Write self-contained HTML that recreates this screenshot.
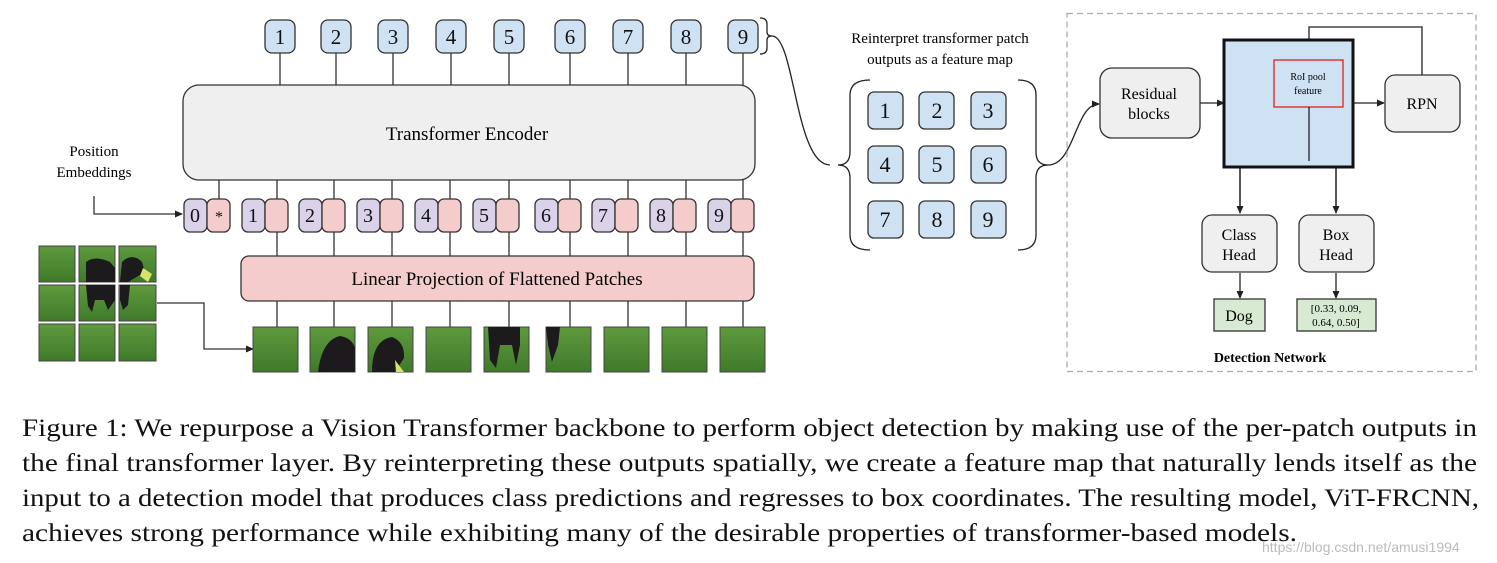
<!DOCTYPE html>
<html><head><meta charset="utf-8"><style>
html,body{margin:0;padding:0;background:#fff;}
svg{display:block;font-family:"Liberation Serif",serif;}
</style></head><body>
<svg width="1497" height="563" viewBox="0 0 1497 563" xmlns="http://www.w3.org/2000/svg">
<defs>
<marker id="ar" markerWidth="8" markerHeight="8" refX="7" refY="4" orient="auto" markerUnits="userSpaceOnUse"><path d="M0,0.5 L8,4 L0,7.5 z" fill="#222"/></marker>
<linearGradient id="g" x1="0" y1="0" x2="0" y2="1"><stop offset="0" stop-color="#5f9a3e"/><stop offset="1" stop-color="#3f7a2a"/></linearGradient>
</defs>
<g stroke="#333" stroke-width="1.3" fill="none">
<!-- output lines -->
<path d="M280,53V85M336,53V85M393,53V85M451,53V85M509,53V85M570,53V85M628,53V85M686,53V85M743,53V85"/>
<!-- encoder to tokens -->
<path d="M219,180V199M277,180V199M334,180V199M392,180V199M450,180V199M509,180V199M570,180V199M628,180V199M686,180V199M743,180V199"/>
<!-- tokens to linear -->
<path d="M277,232V256M334,232V256M392,232V256M450,232V256M509,232V256M570,232V256M628,232V256M686,232V256M743,232V256"/>
<!-- linear to patches -->
<path d="M277,301V327M334,301V327M392,301V327M450,301V327M509,301V327M570,301V327M628,301V327M686,301V327M743,301V327"/>
<path d="M94,196V214H182" marker-end="url(#ar)"/>
<path d="M157,303H204V349H253" marker-end="url(#ar)"/>
</g>
<!-- output boxes -->
<g fill="#cfe2f3" stroke="#333" stroke-width="1.3">
<rect x="265" y="20" width="30" height="33" rx="7"/><rect x="321" y="20" width="30" height="33" rx="7"/><rect x="378" y="20" width="30" height="33" rx="7"/><rect x="436" y="20" width="30" height="33" rx="7"/><rect x="494" y="20" width="30" height="33" rx="7"/><rect x="555" y="20" width="30" height="33" rx="7"/><rect x="613" y="20" width="30" height="33" rx="7"/><rect x="671" y="20" width="30" height="33" rx="7"/><rect x="728" y="20" width="30" height="33" rx="7"/>
</g>
<g font-size="21" text-anchor="middle" fill="#111">
<text x="280" y="44">1</text><text x="336" y="44">2</text><text x="393" y="44">3</text><text x="451" y="44">4</text><text x="509" y="44">5</text><text x="570" y="44">6</text><text x="628" y="44">7</text><text x="686" y="44">8</text><text x="743" y="44">9</text>
</g>
<!-- encoder -->
<rect x="183" y="85" width="572" height="95" rx="16" fill="#efefef" stroke="#333" stroke-width="1.3"/>
<text x="467" y="140" font-size="19" text-anchor="middle">Transformer Encoder</text>
<text x="94" y="156" font-size="15" text-anchor="middle">Position</text>
<text x="94" y="177" font-size="15" text-anchor="middle">Embeddings</text>
<!-- tokens -->
<g stroke="#333" stroke-width="1.3">
<g fill="#d9d2e9">
<rect x="184" y="199" width="23" height="33" rx="6"/><rect x="242" y="199" width="23" height="33" rx="6"/><rect x="299" y="199" width="23" height="33" rx="6"/><rect x="357" y="199" width="23" height="33" rx="6"/><rect x="415" y="199" width="23" height="33" rx="6"/><rect x="473" y="199" width="23" height="33" rx="6"/><rect x="535" y="199" width="23" height="33" rx="6"/><rect x="592" y="199" width="23" height="33" rx="6"/><rect x="650" y="199" width="23" height="33" rx="6"/><rect x="708" y="199" width="23" height="33" rx="6"/>
</g>
<g fill="#f4cccc">
<rect x="207" y="199" width="23" height="33" rx="6"/><rect x="265" y="199" width="23" height="33" rx="6"/><rect x="322" y="199" width="23" height="33" rx="6"/><rect x="380" y="199" width="23" height="33" rx="6"/><rect x="438" y="199" width="23" height="33" rx="6"/><rect x="496" y="199" width="23" height="33" rx="6"/><rect x="558" y="199" width="23" height="33" rx="6"/><rect x="615" y="199" width="23" height="33" rx="6"/><rect x="673" y="199" width="23" height="33" rx="6"/><rect x="731" y="199" width="23" height="33" rx="6"/>
</g>
</g>
<g font-size="20" text-anchor="middle" fill="#111">
<text x="195" y="222">0</text><text x="219" y="222" font-size="16">*</text><text x="253" y="222">1</text><text x="310" y="222">2</text><text x="368" y="222">3</text><text x="426" y="222">4</text><text x="484" y="222">5</text><text x="546" y="222">6</text><text x="603" y="222">7</text><text x="661" y="222">8</text><text x="719" y="222">9</text>
</g>
<rect x="241" y="256" width="513" height="45" rx="8" fill="#f4cccc" stroke="#333" stroke-width="1.3"/>
<text x="497" y="285" font-size="19" text-anchor="middle">Linear Projection of Flattened Patches</text>
<!-- image grid -->
<g stroke="#444" stroke-width="1" fill="url(#g)">
<rect x="39" y="246" width="36" height="36"/><rect x="79" y="246" width="36" height="36"/><rect x="119" y="246" width="37" height="36"/>
<rect x="39" y="285" width="36" height="36"/><rect x="79" y="285" width="36" height="36"/><rect x="119" y="285" width="37" height="36"/>
<rect x="39" y="324" width="36" height="37"/><rect x="79" y="324" width="36" height="37"/><rect x="119" y="324" width="37" height="37"/>
<rect x="253" y="327" width="45" height="45"/><rect x="310" y="327" width="45" height="45"/><rect x="368" y="327" width="45" height="45"/><rect x="426" y="327" width="45" height="45"/><rect x="484" y="327" width="45" height="45"/><rect x="546" y="327" width="45" height="45"/><rect x="604" y="327" width="45" height="45"/><rect x="662" y="327" width="45" height="45"/><rect x="720" y="327" width="45" height="45"/>
</g>
<g fill="#1c1a1c">
<path d="M86,262 Q95,255 110,262 L115,268 115,282 86,282Z"/><path d="M122,262 Q132,252 142,262 L145,272 128,282 120,282Z"/>
<path d="M86,285 H115 V300 L108,310 104,300 95,300 92,312 88,306Z"/><path d="M120,285 H130 L128,305 123,310 120,300Z"/>
<path d="M318,372 Q322,340 340,336 Q352,338 355,348 V372Z"/><path d="M372,372 Q372,340 392,337 Q405,342 404,358 L395,372Z"/>
<path d="M488,327 H520 V345 L516,365 512,345 500,345 496,368 490,360Z"/><path d="M546,327 H560 L558,345 552,362 548,345Z"/>
</g>
<path d="M395,360 L404,372 H396Z" fill="#d7e46a"/>
<path d="M143,268 L152,274 148,282 140,276Z" fill="#d7e46a"/>
<!-- right part -->
<g stroke="#222" stroke-width="1.3" fill="none">
<path d="M760,18 Q767,18 767,24 V32 Q767,36 772,36 Q767,36 767,40 V48 Q767,54 760,54"/>
<path d="M772,36 C795,36 795,165 830,165"/>
<path d="M870,80 Q850,80 850,95 V152 Q850,165 838,165 Q850,165 850,178 V235 Q850,250 870,250"/>
<path d="M1018,80 Q1036,80 1036,95 V152 Q1036,165 1048,165 Q1036,165 1036,178 V235 Q1036,250 1018,250"/>
<path d="M1048,165 C1075,165 1075,104 1099,104" marker-end="url(#ar)"/>
<path d="M1200,103H1224" marker-end="url(#ar)"/>
<path d="M1353,103H1384" marker-end="url(#ar)"/>
<path d="M1422,75V27H1309V59" marker-end="url(#ar)"/>
<path d="M1309,107V161M1240,213V161H1336V213" />
<path d="M1240,161V213" marker-end="url(#ar)"/><path d="M1336,161V213" marker-end="url(#ar)"/>
<path d="M1240,273V298" marker-end="url(#ar)"/><path d="M1336,273V298" marker-end="url(#ar)"/>
</g>
<text x="940" y="43" font-size="15" text-anchor="middle">Reinterpret transformer patch</text>
<text x="940" y="64" font-size="15" text-anchor="middle">outputs as a feature map</text>
<g fill="#cfe2f3" stroke="#333" stroke-width="1.3">
<rect x="868" y="92" width="35" height="37" rx="6"/><rect x="919" y="92" width="35" height="37" rx="6"/><rect x="971" y="92" width="35" height="37" rx="6"/>
<rect x="868" y="146" width="35" height="37" rx="6"/><rect x="919" y="146" width="35" height="37" rx="6"/><rect x="971" y="146" width="35" height="37" rx="6"/>
<rect x="868" y="201" width="35" height="37" rx="6"/><rect x="919" y="201" width="35" height="37" rx="6"/><rect x="971" y="201" width="35" height="37" rx="6"/>
</g>
<g font-size="22" text-anchor="middle" fill="#111">
<text x="885" y="118">1</text><text x="937" y="118">2</text><text x="988" y="118">3</text>
<text x="885" y="172">4</text><text x="937" y="172">5</text><text x="988" y="172">6</text>
<text x="885" y="227">7</text><text x="937" y="227">8</text><text x="988" y="227">9</text>
</g>
<rect x="1067" y="13.5" width="409" height="358" fill="none" stroke="#aaa" stroke-width="1.3" stroke-dasharray="6,4"/>
<rect x="1100" y="68" width="100" height="70" rx="12" fill="#efefef" stroke="#333" stroke-width="1.3"/>
<text x="1149" y="99" font-size="16" text-anchor="middle">Residual</text>
<text x="1149" y="119" font-size="16" text-anchor="middle">blocks</text>
<rect x="1224" y="40" width="129" height="127" fill="#cfe2f3" stroke="#111" stroke-width="3"/>
<rect x="1274" y="60" width="69" height="47" fill="none" stroke="#e02020" stroke-width="1.3"/>
<text x="1308" y="80" font-size="10" text-anchor="middle">RoI pool</text>
<text x="1308" y="94" font-size="10" text-anchor="middle">feature</text>
<path d="M1309,107V161" stroke="#222" stroke-width="1.3"/>
<rect x="1385" y="75" width="75" height="57" rx="10" fill="#efefef" stroke="#333" stroke-width="1.3"/>
<text x="1422" y="109" font-size="16" text-anchor="middle">RPN</text>
<rect x="1202" y="215" width="75" height="57" rx="10" fill="#efefef" stroke="#333" stroke-width="1.3"/>
<text x="1239" y="240" font-size="16" text-anchor="middle">Class</text>
<text x="1239" y="260" font-size="16" text-anchor="middle">Head</text>
<rect x="1299" y="215" width="75" height="57" rx="10" fill="#efefef" stroke="#333" stroke-width="1.3"/>
<text x="1336" y="240" font-size="16" text-anchor="middle">Box</text>
<text x="1336" y="260" font-size="16" text-anchor="middle">Head</text>
<rect x="1214" y="299" width="51" height="32" fill="#d9ead3" stroke="#333" stroke-width="1.3"/>
<text x="1239" y="321" font-size="16" text-anchor="middle">Dog</text>
<rect x="1297" y="299" width="79" height="32" fill="#d9ead3" stroke="#333" stroke-width="1.3"/>
<text x="1336" y="312" font-size="11" text-anchor="middle">[0.33, 0.09,</text>
<text x="1336" y="326" font-size="11" text-anchor="middle">0.64, 0.50]</text>
<text x="1270" y="362" font-size="14" font-weight="bold" text-anchor="middle">Detection Network</text>
<!-- caption -->
<g font-size="25" fill="#111">
<text x="22" y="436" textLength="1455" lengthAdjust="spacingAndGlyphs">Figure 1: We repurpose a Vision Transformer backbone to perform object detection by making use of the per-patch outputs in</text>
<text x="22" y="471" textLength="1455" lengthAdjust="spacingAndGlyphs">the final transformer layer. By reinterpreting these outputs spatially, we create a feature map that naturally lends itself as the</text>
<text x="22" y="506" textLength="1457" lengthAdjust="spacingAndGlyphs">input to a detection model that produces class predictions and regresses to box coordinates. The resulting model, ViT-FRCNN,</text>
<text x="22" y="541" textLength="1275" lengthAdjust="spacingAndGlyphs">achieves strong performance while exhibiting many of the desirable properties of transformer-based models.</text>
</g>
<text x="1262" y="552" font-family="Liberation Sans, sans-serif" font-size="14" fill="#bbb">https://blog.csdn.net/amusi1994</text>
</svg>
</body></html>
